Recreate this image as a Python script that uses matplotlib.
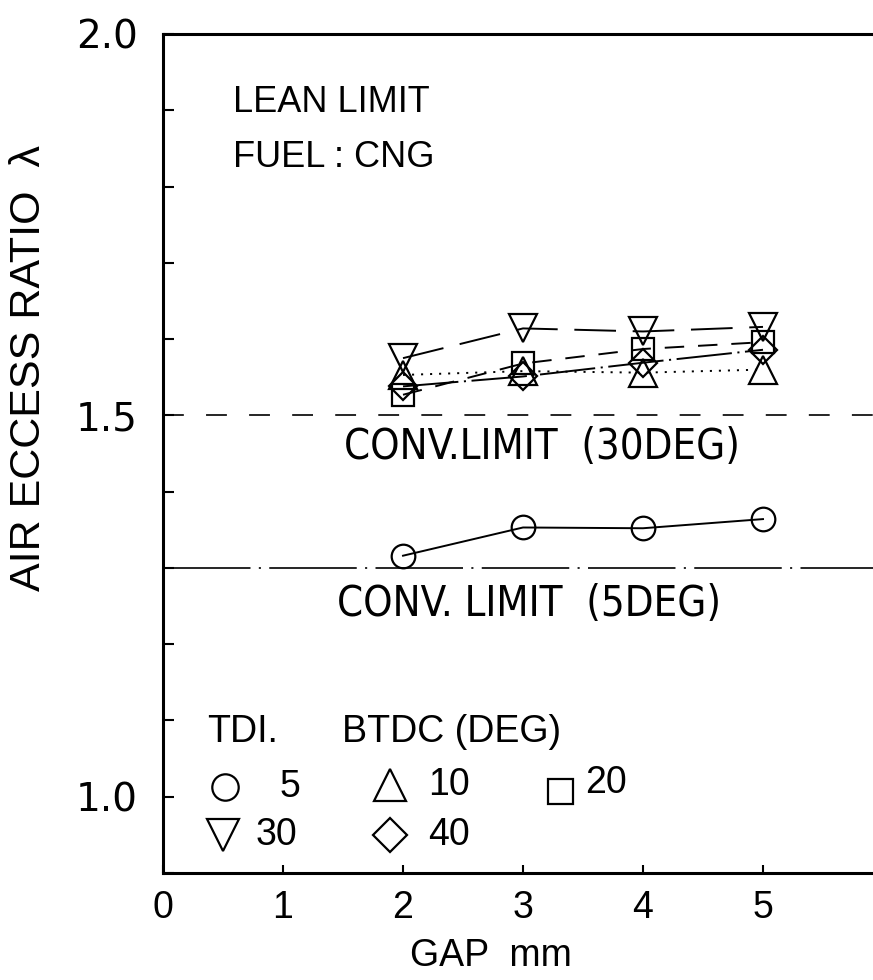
import matplotlib
matplotlib.use("Agg")
import matplotlib.pyplot as plt
from matplotlib.ticker import MultipleLocator

plt.rcParams['lines.scale_dashes'] = False
plt.rcParams['font.family'] = ['Liberation Sans', 'DejaVu Sans']

# gap in mm and lean-limit air excess ratio for each ignition timing
gap = [2, 3, 4, 5]
lam_5deg = [1.316, 1.353, 1.352, 1.364]
lam_10deg = [1.553, 1.558, 1.556, 1.560]
lam_20deg = [1.527, 1.568, 1.587, 1.596]
lam_30deg = [1.575, 1.614, 1.610, 1.616]
lam_40deg = [1.538, 1.551, 1.569, 1.586]

conv_limit_30 = 1.5
conv_limit_5 = 1.30

series = [
    (lam_5deg, 'o', 17, None),
    (lam_10deg, '^', 20, [1.5, 5]),
    (lam_20deg, 's', 16, [14, 10]),
    (lam_30deg, 'v', 20, [30, 12]),
    (lam_40deg, 'D', 14, [40, 4, 1.5, 4]),
]

fig = plt.figure(figsize=(8.73, 9.8), dpi=100)
ax = fig.add_axes([163/873, 107/980, 720/873, 839/980])
ax.set_xlim(0, 6)
ax.set_ylim(0.9, 2.0)

ax.axhline(conv_limit_30, color='black', lw=1.2, dashes=[15, 16])
ax.axhline(conv_limit_5, color='black', lw=1.2, dashes=[63, 6, 1.5, 6])

for vals, mk, ms, dash in series:
    ln, = ax.plot(gap, vals, color='black', lw=1.4, marker=mk, ms=ms,
                  mfc='none', mec='black', mew=1.6)
    if dash is not None:
        ln.set_dashes(dash)

for s in ['left', 'bottom', 'top']:
    ax.spines[s].set_linewidth(2.2)
ax.spines['right'].set_visible(False)

ax.set_xticks([0, 1, 2, 3, 4, 5])
ax.set_xticklabels(['0', '1', '2', '3', '4', '5'], fontsize=27)
ax.set_yticks([1.0, 1.5, 2.0])
ax.set_yticklabels(['1.0', '1.5', '2.0'], fontsize=28, family='DejaVu Sans')
ax.yaxis.set_minor_locator(MultipleLocator(0.1))
ax.tick_params(axis='y', which='both', direction='in', length=8, width=1.5, pad=18)
ax.tick_params(axis='x', which='both', direction='in', length=6, width=1.5, pad=12)

ax.set_xlabel('GAP  mm', fontsize=27)
ax.xaxis.set_label_coords(2.73/6, -0.078)
ax.set_ylabel('AIR ECCESS RATIO  \u03bb', fontsize=31)
ax.yaxis.set_label_coords(-0.158, 0.602)

ax.text(0.58, 1.91, 'LEAN LIMIT', fontsize=26, va='center')
ax.text(0.58, 1.838, 'FUEL : CNG', fontsize=26, va='center')
ax.text(1.51, 1.459, 'CONV.LIMIT  (30DEG)', fontsize=30, va='center',
        family='DejaVu Sans', stretch='condensed')
ax.text(1.45, 1.253, 'CONV. LIMIT  (5DEG)', fontsize=30, va='center',
        family='DejaVu Sans', stretch='condensed')

# key for the ignition timings
ax.text(0.37, 1.085, 'TDI.', fontsize=27, va='center')
ax.text(1.49, 1.085, 'BTDC (DEG)', fontsize=27, va='center')
key = [
    ('o', 19, 0.52, 1.013, '5', 0.975),
    ('^', 23, 1.89, 1.015, '10', 2.21),
    ('s', 18, 3.31, 1.008, '20', 3.52),
    ('v', 23, 0.50, 0.950, '30', 0.77),
    ('D', 17, 1.89, 0.950, '40', 2.21),
]
for mk, ms, mx, my, lab, tx in key:
    ax.plot([mx], [my], marker=mk, ms=ms, mfc='none', mec='black', mew=1.6,
            ls='none')
    ax.text(tx, my + (0.01 if lab == '20' else 0), lab, fontsize=27, va='center')

fig.savefig('out.png', dpi=100)
